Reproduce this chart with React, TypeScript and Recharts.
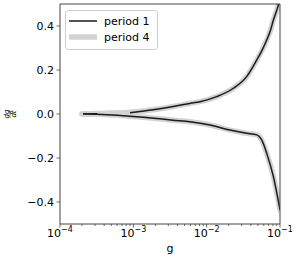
import React from "react";
import { LineChart, Line, XAxis, YAxis, Legend, ReferenceLine } from "recharts";

// ---- data ----
const gP1Upper = [2.06e-4, 3.2e-4, 5.0e-4, 9.0e-4, 1.4e-3, 2.3e-3, 3.5e-3, 5.9e-3, 8.1e-3, 1.37e-2, 2.31e-2, 3.51e-2, 4.81e-2, 5.6e-2, 6.59e-2, 7.4e-2, 8.13e-2, 9.49e-2, 1.0e-1];
const vP1Upper: (number | null)[] = [0.0015, 0.0008, null, 0.006, 0.014, 0.024, 0.034, 0.048, 0.056, 0.079, 0.117, 0.17, 0.245, 0.285, 0.336, 0.38, 0.427, 0.495, 0.525];

const gP1Lower = [2.06e-4, 3.2e-4, 6.0e-4, 9.0e-4, 1.5e-3, 2.3e-3, 3.5e-3, 5.93e-3, 1.11e-2, 2.08e-2, 3.51e-2, 4.81e-2, 5.2e-2, 5.63e-2, 6.59e-2, 8.13e-2, 1.0e-1];
const vP1Lower = [0.0015, -0.001, -0.006, -0.01, -0.016, -0.022, -0.028, -0.035, -0.05, -0.073, -0.088, -0.095, -0.102, -0.118, -0.179, -0.285, -0.436];

const gP4Upper = [2.0e-4, 3.2e-4, 5.0e-4, 9.0e-4, 1.4e-3, 2.3e-3, 3.5e-3, 5.9e-3, 8.1e-3, 1.37e-2, 2.31e-2, 3.51e-2, 4.81e-2, 5.6e-2, 6.59e-2, 7.4e-2, 8.13e-2, 9.49e-2, 1.0e-1];
const vP4Upper = [0.0, 0.002, 0.004, 0.008, 0.014, 0.024, 0.034, 0.048, 0.056, 0.079, 0.117, 0.17, 0.245, 0.285, 0.336, 0.38, 0.427, 0.495, 0.525];

const gP4Lower = [2.0e-4, 3.2e-4, 6.0e-4, 9.0e-4, 1.5e-3, 2.3e-3, 3.5e-3, 5.93e-3, 1.11e-2, 2.08e-2, 3.51e-2, 4.81e-2, 5.2e-2, 5.63e-2, 6.59e-2, 8.13e-2, 1.0e-1];
const vP4Lower = [0.0, -0.001, -0.006, -0.01, -0.016, -0.022, -0.028, -0.035, -0.05, -0.073, -0.088, -0.095, -0.102, -0.118, -0.179, -0.285, -0.436];

const xMajorTicks = [1e-4, 1e-3, 1e-2, 1e-1];
const xMajorLabels = ["−4", "−3", "−2", "−1"];
const xMinorMultipliers = [2, 3, 4, 5, 6, 7, 8, 9];
const yTicks = [-0.4, -0.2, 0.0, 0.2, 0.4];
const seriesNames = ["period 1", "period 4"];
const xDomain = [1e-4, 1e-1];
const yDomain = [-0.5, 0.5];

const build = (gs: number[], vs: (number | null)[]) => gs.map((g, i) => ({ g, v: vs[i] }));
const dataP1Upper = build(gP1Upper, vP1Upper);
const dataP1Lower = build(gP1Lower, vP1Lower);
const dataP4Upper = build(gP4Upper, vP4Upper);
const dataP4Lower = build(gP4Lower, vP4Lower);

const xMinorTicks: number[] = [];
xMajorTicks.slice(0, -1).forEach((m) => xMinorMultipliers.forEach((k) => xMinorTicks.push(m * k)));
const xAllTicks = [...xMajorTicks, ...xMinorTicks].sort((a, b) => a - b);

const FONT = "DejaVu Sans";
const AXIS = "#444";
const BLACK = "#1a1a1a";
const GRAY = "#d3d3d3";

const XTick = (props: any) => {
  const { x, y, payload } = props;
  const v = payload.value as number;
  const idx = xMajorTicks.findIndex((m) => Math.abs(m - v) / m < 1e-6);
  const major = idx >= 0;
  return (
    <g>
      <line x1={x} x2={x} y1={y} y2={y + (major ? 3.5 : 2)} stroke={AXIS} strokeWidth={0.8} />
      {major && (
        <text x={x} y={y + 13} textAnchor="middle" fontFamily={FONT} fontSize={11} fill="#000">
          <tspan>10</tspan>
          <tspan dy={-5} fontSize={8}>{xMajorLabels[idx]}</tspan>
        </text>
      )}
    </g>
  );
};

const YTick = (props: any) => {
  const { x, y, payload } = props;
  const v = payload.value as number;
  const s = (v < 0 ? "−" : "") + Math.abs(v).toFixed(1);
  return (
    <g>
      <line x1={x - 3.5} x2={x} y1={y} y2={y} stroke={AXIS} strokeWidth={0.8} />
      <text x={x - 6} y={y + 4} textAnchor="end" fontFamily={FONT} fontSize={11} fill="#000">
        {s}
      </text>
    </g>
  );
};

const YLabel = () => (
  <g transform="translate(10,114) rotate(-90)">
    <text x={0} y={-1.5} textAnchor="middle" fontFamily={FONT} fontSize={7} fontStyle="italic" fill="#000">dg</text>
    <line x1={-4} x2={4} y1={0} y2={0} stroke="#000" strokeWidth={0.5} />
    <text x={0} y={6} textAnchor="middle" fontFamily={FONT} fontSize={7} fontStyle="italic" fill="#000">dt</text>
  </g>
);

const LegendBox = () => (
  <svg width={93} height={40} style={{ display: "block" }}>
    <rect x={0.5} y={0.5} width={92} height={39} rx={3} ry={3} fill="rgba(255,255,255,0.8)" stroke="#ccc" strokeWidth={1} />
    <line x1={4} x2={32} y1={11} y2={11} stroke={BLACK} strokeWidth={1.5} />
    <text x={39} y={15} fontFamily={FONT} fontSize={11} fill="#000">{seriesNames[0]}</text>
    <line x1={4} x2={32} y1={27} y2={27} stroke={GRAY} strokeWidth={5.5} />
    <text x={39} y={31} fontFamily={FONT} fontSize={11} fill="#000">{seriesNames[1]}</text>
  </svg>
);

export default function App() {
  return (
    <div style={{ position: "absolute", left: 0, top: 0, width: 299, height: 259, background: "#fff" }}>
      <LineChart width={299} height={259} margin={{ top: 4, right: 19, bottom: 0, left: 0 }}>
        <XAxis
          dataKey="g"
          type="number"
          scale="log"
          domain={xDomain}
          allowDataOverflow
          ticks={xAllTicks}
          interval={0}
          height={35}
          tickSize={0}
          tickMargin={0}
          tickLine={false}
          tick={<XTick />}
          axisLine={{ stroke: AXIS, strokeWidth: 1 }}
          label={{ value: "g", position: "insideBottom", offset: 7, fontFamily: FONT, fontSize: 11, fill: "#000" }}
        />
        <YAxis
          type="number"
          domain={yDomain}
          allowDataOverflow
          ticks={yTicks}
          interval={0}
          width={60}
          tickSize={0}
          tickMargin={0}
          tickLine={false}
          tick={<YTick />}
          axisLine={{ stroke: AXIS, strokeWidth: 1 }}
          label={<YLabel />}
        />
        <Line data={dataP4Upper} dataKey="v" type="monotone" stroke={GRAY} strokeWidth={5.5} dot={false} isAnimationActive={false} strokeLinecap="round" />
        <Line data={dataP4Lower} dataKey="v" type="monotone" stroke={GRAY} strokeWidth={5.5} dot={false} isAnimationActive={false} strokeLinecap="round" />
        <Line data={dataP1Upper} dataKey="v" type="monotone" stroke={BLACK} strokeWidth={1.5} dot={false} isAnimationActive={false} />
        <Line data={dataP1Lower} dataKey="v" type="monotone" stroke={BLACK} strokeWidth={1.5} dot={false} isAnimationActive={false} />
        <ReferenceLine y={yDomain[1]} stroke={AXIS} strokeWidth={1} ifOverflow="visible" />
        <ReferenceLine x={xDomain[1]} stroke={AXIS} strokeWidth={1} ifOverflow="visible" />
        <Legend
          layout="horizontal"
          verticalAlign="middle"
          align="center"
          wrapperStyle={{ position: "absolute", left: 65, top: 10, width: "auto", height: "auto" }}
          content={() => <LegendBox />}
        />
      </LineChart>
    </div>
  );
}
